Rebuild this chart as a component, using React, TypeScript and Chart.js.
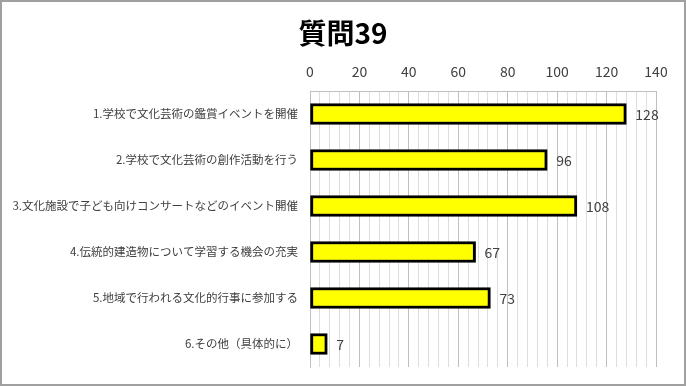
import React, { useEffect, useRef } from "react";
import { Chart, registerables } from "chart.js";

Chart.register(...registerables);

const titleText = "質問39";
const categories = [
  "1.学校で文化芸術の鑑賞イベントを開催",
  "2.学校で文化芸術の創作活動を行う",
  "3.文化施設で子ども向けコンサートなどのイベント開催",
  "4.伝統的建造物について学習する機会の充実",
  "5.地域で行われる文化的行事に参加する",
  "6.その他（具体的に）",
];
const values = [128, 96, 108, 67, 73, 7];
const axisMin = 0;
const axisMax = 140;
const labelStep = 20;
const gridStep = 4;

const FONT = '"Noto Sans CJK JP", "Noto Sans", sans-serif';

const valueLabelPlugin = {
  id: "valueLabels",
  afterDatasetsDraw(chart: any) {
    const ctx = chart.ctx;
    const meta = chart.getDatasetMeta(0);
    ctx.save();
    ctx.font = `14px ${FONT}`;
    ctx.fillStyle = "#404040";
    ctx.textAlign = "left";
    ctx.textBaseline = "middle";
    meta.data.forEach((bar: any, i: number) => {
      ctx.fillText(String(values[i]), bar.x + 9, bar.y + 1);
    });
    ctx.restore();
  },
};

const framePlugin = {
  id: "frame",
  beforeDraw(chart: any) {
    const ctx = chart.ctx;
    ctx.save();
    ctx.fillStyle = "#ffffff";
    ctx.fillRect(0, 0, chart.width, chart.height);
    ctx.restore();
  },
  afterDraw(chart: any) {
    const ctx = chart.ctx;
    ctx.save();
    ctx.fillStyle = "#000000";
    ctx.font = `bold 28px ${FONT}`;
    ctx.textAlign = "center";
    ctx.textBaseline = "middle";
    ctx.fillText(titleText, chart.width / 2, 33);
    ctx.strokeStyle = "#a0a0a0";
    ctx.lineWidth = 2;
    ctx.strokeRect(1, 1, chart.width - 2, chart.height - 2);
    ctx.restore();
  },
};

export default function App() {
  const ref = useRef<HTMLCanvasElement>(null);
  useEffect(() => {
    document.body.style.margin = "0";
    if (!ref.current) return;
    const chart = new Chart(ref.current, {
      type: "bar",
      data: {
        labels: categories,
        datasets: [
          {
            data: values,
            backgroundColor: "#ffff00",
            borderColor: "#000000",
            borderWidth: 3,
            borderSkipped: false,
            barThickness: 21,
          },
        ],
      },
      options: {
        indexAxis: "y",
        animation: false,
        responsive: false,
        layout: { padding: { left: 0, right: 30, top: 49, bottom: 19 } },
        plugins: {
          legend: { display: false },
          tooltip: { enabled: false },
          title: { display: false },
        },
        scales: {
          x: {
            position: "top",
            min: axisMin,
            max: axisMax,
            ticks: {
              stepSize: gridStep,
              autoSkip: false,
              maxRotation: 0,
              padding: 11,
              color: "#404040",
              font: { family: FONT, size: 14 },
              callback: (v: any) => (Number(v) % labelStep === 0 ? String(v) : ""),
            },
            grid: {
              drawTicks: false,
              color: (c: any) =>
                c.tick && c.tick.value % labelStep === 0 ? "#bfbfbf" : "#dedede",
              lineWidth: 1,
            },
            border: { display: true, color: "#bfbfbf" },
            afterFit: (scale: any) => {
              scale.height = 42;
            },
          },
          y: {
            ticks: {
              padding: 4,
              color: "#404040",
              font: { family: FONT, size: 11.5 },
            },
            grid: { display: false },
            border: { display: true, color: "#bfbfbf" },
            afterFit: (scale: any) => {
              scale.width = 310;
            },
          },
        },
      },
      plugins: [valueLabelPlugin, framePlugin],
    });
    return () => chart.destroy();
  }, []);
  return <canvas ref={ref} width={686} height={386} />;
}
